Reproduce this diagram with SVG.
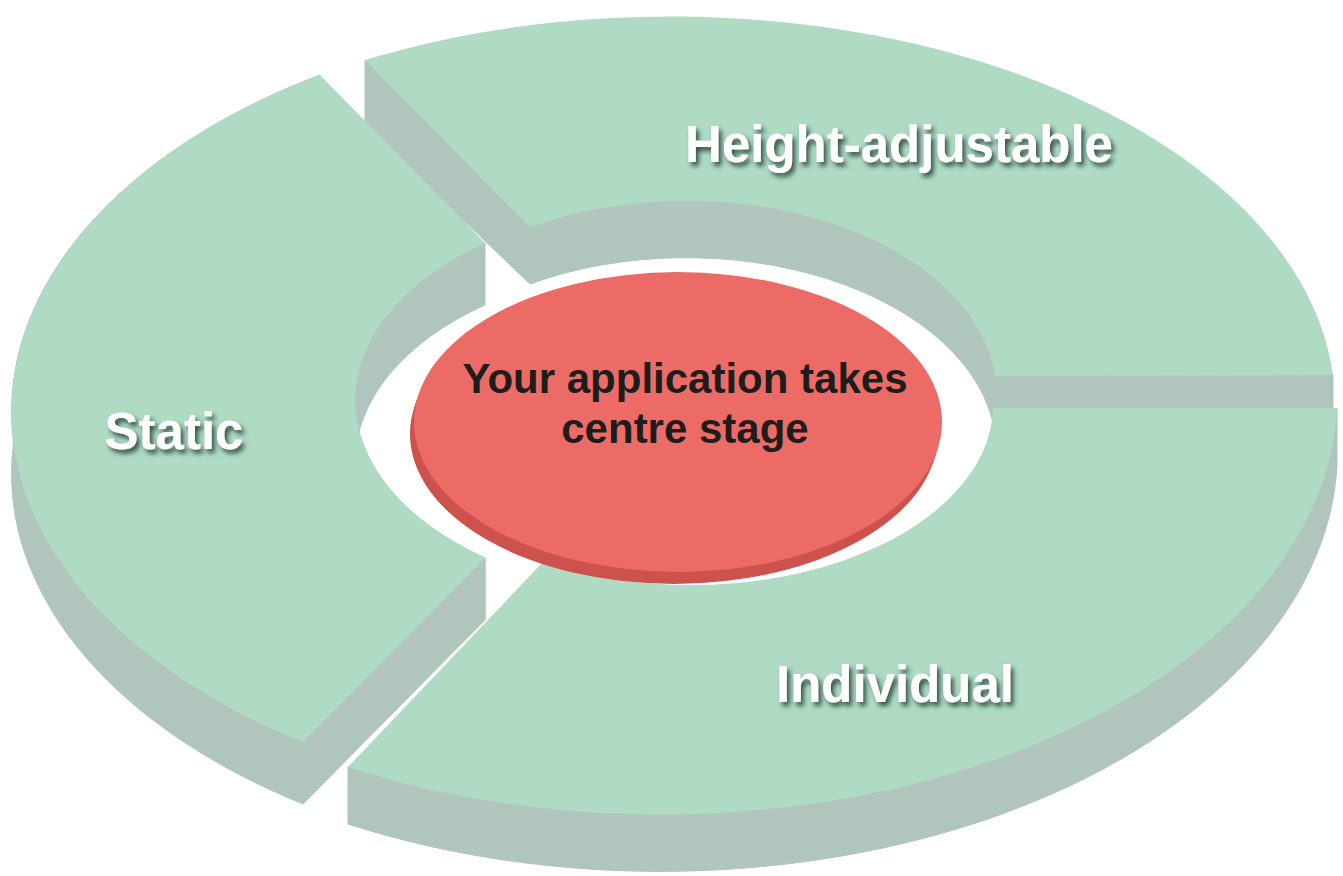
<svg xmlns="http://www.w3.org/2000/svg" width="1343" height="876" viewBox="0 0 1343 876">
<defs>
<style>
.top{fill:#AFDBC5}
.side{fill:#B0C5BB;stroke:#B0C5BB;stroke-width:1;stroke-linejoin:round}
.disk-top{fill:#EC6B66}
.disk-side{fill:#CD524D}
.label{font-family:"Liberation Sans",Arial,sans-serif;font-weight:bold;font-size:51px;fill:#ffffff;text-anchor:middle;filter:url(#shadow)}
.center-text{font-family:"Liberation Sans",Arial,sans-serif;font-weight:bold;font-size:42px;fill:#1d1d1b;text-anchor:middle}
</style>
<filter id="shadow" x="-10%" y="-40%" width="130%" height="190%">
<feDropShadow dx="3" dy="4" stdDeviation="2.8" flood-color="#1e3b2f" flood-opacity="0.85"/>
</filter>
</defs>
<rect width="1343" height="876" fill="#ffffff"/>

<g id="node-height-adjustable">
<path class="side" d="M995,376 A310,193 0 0 0 530,227 L530,284 A310,193 0 0 1 995,433 Z"/>
<polygon class="side" points="365,60 530,227 530,284 365,126"/>
<polygon class="side" points="995,376 1333,375 1333,432 995,433"/>
<path class="top" d="M365,60 A665,390 0 0 1 1333,375 L995,376 A310,193 0 0 0 530,227 Z"/>
<text class="label" x="899" y="162">Height-adjustable</text>
</g>

<g id="node-static">
<path class="side" d="M320,75 A660,398 0 0 0 303,742 L303,804 A660,398 0 0 1 320,137 Z"/>
<path class="side" d="M485,558 A321,196 0 0 1 485,243 L485,305 A321,196 0 0 0 485,620 Z"/>
<polygon class="side" points="303,742 485,558 485,620 303,804"/>
<path class="top" d="M320,75 A660,398 0 0 0 303,742 L485,558 A321,196 0 0 1 485,243 Z"/>
<text class="label" x="174" y="449">Static</text>
</g>

<g id="node-individual">
<path class="side" d="M1337,408 A677,420 0 0 1 348,767 L348,824 A677,420 0 0 0 1337,465 Z"/>
<path class="top" d="M1337,408 A677,420 0 0 1 348,767 L543,562 A302,180 0 0 0 993,408 Z"/>
<text class="label" x="895" y="702">Individual</text>
</g>

<g id="node-centre">
<ellipse class="disk-side" cx="674" cy="434" rx="264" ry="150"/>
<ellipse class="disk-side" cx="676" cy="428" rx="264" ry="150"/>
<ellipse class="disk-top" cx="678" cy="422" rx="264" ry="150"/>
<text class="center-text" x="685" y="393">Your application takes</text>
<text class="center-text" x="685" y="443">centre stage</text>
</g>
</svg>
